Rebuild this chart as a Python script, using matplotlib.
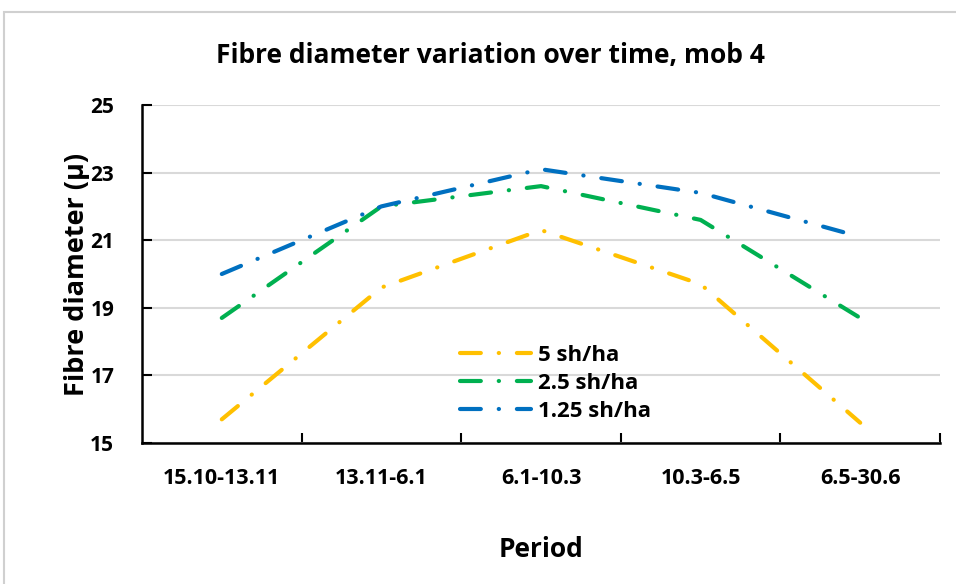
import matplotlib.pyplot as plt
from matplotlib.patches import Rectangle

periods = ["15.10-13.11", "13.11-6.1", "6.1-10.3", "10.3-6.5", "6.5-30.6"]
sh_5 = [15.7, 19.6, 21.3, 19.7, 15.6]
sh_25 = [18.7, 22.0, 22.6, 21.6, 18.7]
sh_125 = [20.0, 22.0, 23.1, 22.4, 21.1]

plt.rcParams['font.family'] = ['Open Sans', 'DejaVu Sans']
plt.rcParams['font.weight'] = 'bold'

fig = plt.figure(figsize=(9.56, 5.84), dpi=100)
# chart border like Excel
fig.patches.append(Rectangle((4 / 956, -0.1), 1.0, 1 - 12 / 584 + 0.1, transform=fig.transFigure,
                             fill=False, edgecolor='#d0d0d0', lw=1.5))
ax = fig.add_axes([142 / 956, 1 - 443 / 584, (940 - 142) / 956, (443 - 105) / 584])

x = range(len(periods))
style = (0, (5, 4.3, 0.05, 4.3))
series = [(sh_5, '#ffc000', '5 sh/ha'), (sh_25, '#00b050', '2.5 sh/ha'), (sh_125, '#0070c0', '1.25 sh/ha')]
for vals, col, lab in series:
    ax.plot(x, vals, color=col, lw=3, linestyle=style, dash_capstyle='round', label=lab)

ax.set_xlim(-0.5, 4.5)
ax.set_ylim(15, 25)
ax.set_yticks([15, 17, 19, 21, 23, 25])
ax.yaxis.grid(True, color='#d9d9d9', lw=1.5)
ax.set_axisbelow(True)
ax.set_xticks([i + 0.5 for i in range(5)])
ax.set_xticklabels([])
ax.set_xticks(list(x), labels=periods, minor=True)
ax.tick_params(axis='x', which='major', direction='in', length=7, width=1.5)
ax.tick_params(axis='x', which='minor', length=0, pad=18, labelsize=15.5)
ax.tick_params(axis='y', direction='in', length=7, width=1.5, labelsize=15, pad=20)
for s in ['top', 'right']:
    ax.spines[s].set_visible(False)
for s in ['left', 'bottom']:
    ax.spines[s].set_linewidth(1.8)

ax.set_ylabel("Fibre diameter (μ)", fontsize=19.5, fontweight='bold', labelpad=0)
ax.set_xlabel("Period", fontsize=19, fontweight='bold', labelpad=34)
fig.text(490 / 956, 1 - 55 / 584, "Fibre diameter variation over time, mob 4",
         ha='center', va='center', fontsize=19, fontweight='bold')

ax.legend(loc='upper left', bbox_to_anchor=(0.398, 0.29), frameon=False, fontsize=16,
          handlelength=3.2, labelspacing=0.32, handletextpad=0.35, borderpad=0, borderaxespad=0)

fig.savefig('out.png', dpi=100)
